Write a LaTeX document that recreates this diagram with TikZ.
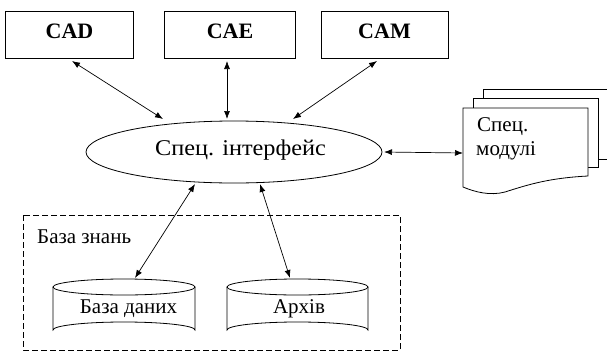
\documentclass[tikz,border=0pt]{standalone}
\usepackage{fontspec}
\setmainfont{Liberation Serif}
\usetikzlibrary{arrows.meta,shapes.geometric}
\begin{document}
\begin{tikzpicture}[x=1pt,y=-1pt,
  box/.style={draw,line width=0.8pt,minimum height=46.6pt,inner sep=0pt,font=\fontsize{22}{24}\selectfont\bfseries},
  conn/.style={line width=0.7pt,{Latex[length=8pt,width=6pt]}-{Latex[length=8pt,width=6pt]}},
  lbl/.style={font=\fontsize{21}{24}\selectfont,inner sep=0pt},
  shp/.style={line width=0.8pt}]
\useasboundingbox (0,0) rectangle (607,356);
\node[box,minimum width=128pt] (cad) at (69.5,35) {};
\node[box,minimum width=131pt] (cae) at (230,35) {};
\node[box,minimum width=127pt] (cam) at (384.5,35) {};
\node[lbl,font=\fontsize{22}{24}\selectfont\bfseries,anchor=base] (cadt) at (69.5,38.5) {CAD};
\node[lbl,font=\fontsize{22}{24}\selectfont\bfseries,anchor=base] (caet) at (230,38.5) {CAE};
\node[lbl,font=\fontsize{22}{24}\selectfont\bfseries,anchor=base] (camt) at (384.5,38.5) {CAM};
\node[draw,ellipse,shp,minimum width=296pt,minimum height=62pt,inner sep=0pt] (ifc) at (234,152) {};
\node[lbl,font=\fontsize{22.5}{24}\selectfont\addfontfeatures{FakeStretch=1.08},anchor=base] (ifct) at (240.5,155) {Спец. інтерфейс};
% documents
\draw[shp,fill=white] (483,89) -- (607,89);
\draw[shp] (483,89) -- (483,98);
\draw[shp] (598,159) -- (607,159);
\draw[shp,fill=white] (473,108) -- (473,98) -- (598,98) -- (598,167) -- (588,167);
\draw[shp,fill=white] (463,108) -- (588,108) -- (588,176)
   .. controls (550,178) and (530,184) .. (505,192)
   .. controls (490,196) and (475,192) .. (463,187) -- cycle;
\coordinate (doc) at (463,153);
\node[lbl,anchor=base west] (doct1) at (477,131) {Спец.};
\node[lbl,anchor=base west] (doct2) at (476,155) {модулі};
% knowledge base
\draw[shp,dashed,dash pattern=on 6pt off 3pt] (23,215) rectangle (400,350);
\node[lbl,anchor=base west] (kb) at (37,243) {База знань};
% cylinders
\foreach \n/\a/\b in {db/53/195,ar/227/368}{
  \pgfmathsetmacro{\c}{(\a+\b)/2}
  \pgfmathsetmacro{\r}{(\b-\a)/2}
  \draw[shp] (\c,287) ellipse [x radius=\r, y radius=8];
  \draw[shp] (\a,287) -- (\a,330) arc[start angle=180,end angle=360,x radius=\r,y radius=8] -- (\b,287);
}
\node[lbl,anchor=base] (dbt) at (128.5,313) {База даних};
\node[lbl,anchor=base] (art) at (299,313) {Архів};
\coordinate (cadb) at (72,61);
\coordinate (caeb) at (227,61);
\coordinate (camb) at (377,61);
\coordinate (i1) at (163,119);
\coordinate (i2) at (227,119);
\coordinate (i3) at (293,119);
\coordinate (i4) at (195,184);
\coordinate (i5) at (260,184);
\coordinate (dbtop) at (135,278);
\coordinate (artop) at (290,278);
\coordinate (ir) at (384,152);
\draw[conn] (cadb) -- (i1);
\draw[conn] (caeb) -- (i2);
\draw[conn] (camb) -- (i3);
\draw[conn] (i4) -- (dbtop);
\draw[conn] (i5) -- (artop);
\draw[conn] (ir) -- (doc);
\end{tikzpicture}
\end{document}
